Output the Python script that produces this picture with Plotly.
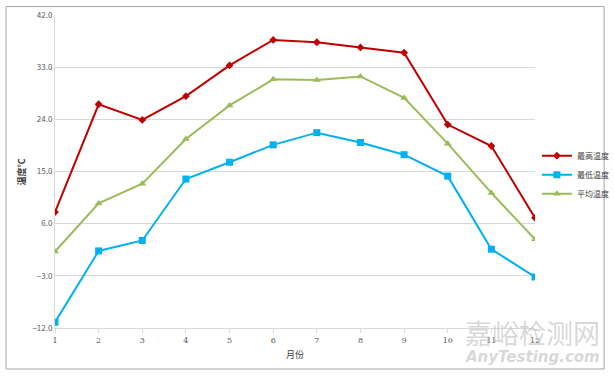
import plotly.graph_objects as go

months = [1, 2, 3, 4, 5, 6, 7, 8, 9, 10, 11, 12]
max_temp = [8.0, 26.6, 23.9, 28.0, 33.3, 37.7, 37.3, 36.4, 35.5, 23.1, 19.4, 7.0]
min_temp = [-11.0, 1.3, 3.1, 13.7, 16.6, 19.6, 21.7, 20.0, 17.9, 14.2, 1.6, -3.2]
avg_temp = [1.2, 9.5, 12.9, 20.6, 26.4, 30.9, 30.8, 31.4, 27.7, 19.8, 11.3, 3.3]
y_ticks = [-12.0, -3.0, 6.0, 15.0, 24.0, 33.0, 42.0]
series_names = ["最高温度", "最低温度", "平均温度"]

FONT = "Noto Sans CJK SC, Noto Sans, sans-serif"

fig = go.Figure()
fig.add_trace(go.Scatter(x=months, y=max_temp, name=series_names[0], mode="lines+markers",
                         line=dict(color="#C00000", width=2),
                         marker=dict(symbol="diamond", size=6, color="#C00000")))
fig.add_trace(go.Scatter(x=months, y=min_temp, name=series_names[1], mode="lines+markers",
                         line=dict(color="#00B0F0", width=2),
                         marker=dict(symbol="square", size=7, color="#00B0F0")))
fig.add_trace(go.Scatter(x=months, y=avg_temp, name=series_names[2], mode="lines+markers",
                         line=dict(color="#9BBB59", width=2),
                         marker=dict(symbol="triangle-up", size=7, color="#9BBB59")))

fig.update_layout(
    width=614, height=376,
    margin=dict(l=55, r=79, t=15, b=48, autoexpand=False),
    paper_bgcolor="white", plot_bgcolor="white",
    font=dict(family=FONT, size=8, color="#595959"),
    showlegend=True,
    legend=dict(x=1.004, y=0.49, xanchor="left", yanchor="middle",
                font=dict(size=8, color="#404040"), itemwidth=30,
                bgcolor="rgba(0,0,0,0)"),
    xaxis=dict(range=[1, 12], tickmode="array", tickvals=months,
               ticktext=[str(m) for m in months], automargin=False,
               showgrid=False, zeroline=False, showline=True, linecolor="#D9D9D9", linewidth=1,
               ticks="outside", ticklen=4, tickcolor="#D9D9D9",
               tickfont=dict(size=8, color="#595959", family="DejaVu Serif, serif"),
               title=dict(text="月份", font=dict(size=9, color="#404040"), standoff=8)),
    yaxis=dict(range=[-12, 42], tickmode="array", tickvals=y_ticks, automargin=False,
               tickformat=".1f", showgrid=True, gridcolor="#D9D9D9", gridwidth=1,
               zeroline=False, showline=True, linecolor="#D9D9D9", linewidth=1,
               tickfont=dict(size=8, color="#595959")),
)

fig.add_annotation(text="<b>温度℃</b>", xref="paper", yref="paper", x=-0.069, y=0.5,
                   xanchor="center", yanchor="middle", textangle=-90, showarrow=False,
                   font=dict(size=9, color="#404040", family=FONT))

fig.add_shape(type="rect", xref="paper", yref="paper",
              x0=-0.102, x1=1.144, y0=-0.131, y1=1.027,
              line=dict(color="#A6A6A6", width=1), fillcolor="rgba(0,0,0,0)", layer="below")

fig.add_annotation(text="嘉峪检测网", xref="paper", yref="paper", x=1.14, y=-0.013,
                   xanchor="right", yanchor="middle", showarrow=False,
                   font=dict(size=27, color="rgba(190,190,190,0.6)", family=FONT))
fig.add_annotation(text="<i><b>AnyTesting.com</b></i>", xref="paper", yref="paper", x=1.14, y=-0.092,
                   xanchor="right", yanchor="middle", showarrow=False,
                   font=dict(size=15, color="rgba(190,190,190,0.6)", family="DejaVu Sans, sans-serif"))

fig.write_html("out.html", config={"displayModeBar": False},
               post_script="document.body.style.margin='0';")
